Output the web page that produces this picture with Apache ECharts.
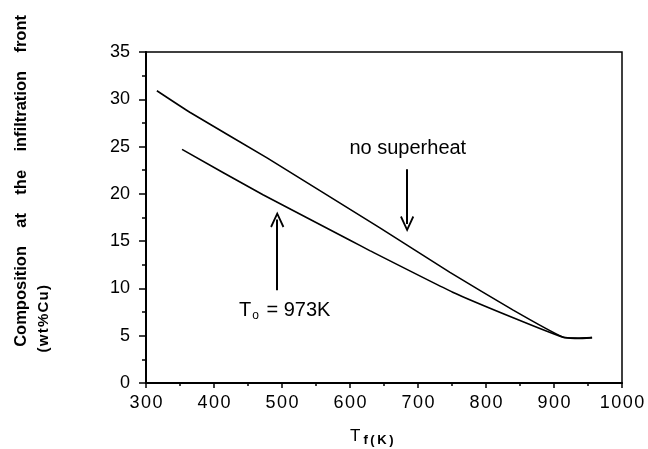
<!DOCTYPE html>
<html>
<head>
<meta charset="utf-8">
<script src="https://cdn.jsdelivr.net/npm/echarts@6/dist/echarts.min.js"></script>
<style>
  html, body { margin: 0; padding: 0; background: #fff; }
  #main { width: 648px; height: 449px; }
</style>
</head>
<body>
<div id="main"></div>
<script>
// 数据：两条曲线
const noSuperheatT = [316, 365, 478, 644, 747, 840, 913, 935, 956];
const noSuperheatC = [30.9, 28.6, 23.8, 16.4, 11.7, 7.7, 4.85, 4.75, 4.8];
const to973T = [353, 472, 600, 629, 751, 840, 913, 935, 956];
const to973C = [24.7, 19.9, 15.1, 14.0, 9.6, 6.9, 4.85, 4.7, 4.8];
const xTicks = [300, 400, 500, 600, 700, 800, 900, 1000];
const yTicks = [0, 5, 10, 15, 20, 25, 30, 35];

const pair = (xs, ys) => xs.map((x, i) => [x, ys[i]]);
const vArrow = "path://M0,0 L-6,11 L-4.6,11.6 L0,3.2 L4.6,11.6 L6,11 Z";
const font = "Liberation Sans, Arial, sans-serif";

const chart = echarts.init(document.getElementById("main"));
const option = {
  backgroundColor: "#fff",
  animation: false,
  grid: {
    left: 146, right: 26, top: 52, bottom: 66,
    show: true, borderColor: "#000", borderWidth: 1.5,
  },
  xAxis: {
    type: "value", min: 300, max: 1000, interval: 100,
    minorTick: { show: true, splitNumber: 2, length: 3, lineStyle: { color: "#000", width: 1.5 } },
    axisLine: { lineStyle: { color: "#000", width: 2 } },
    axisTick: { length: 5, lineStyle: { color: "#000", width: 1.5 } },
    splitLine: { show: false },
    axisLabel: { color: "#000", fontSize: 18, fontFamily: font, margin: 11,
      formatter: (v) => (xTicks.includes(v) ? String(v).split("").join("\u200A") : "") },
  },
  yAxis: {
    type: "value", min: 0, max: 35, interval: 5,
    minorTick: { show: true, splitNumber: 2, length: 4, lineStyle: { color: "#000", width: 1.5 } },
    axisLine: { lineStyle: { color: "#000", width: 2 } },
    axisTick: { length: 7, lineStyle: { color: "#000", width: 1.5 } },
    splitLine: { show: false },
    axisLabel: { color: "#000", fontSize: 18, fontFamily: font, margin: 16,
      formatter: (v) => (yTicks.includes(v) ? String(v) : "") },
  },
  graphic: [
    {
      type: "text", left: 13, top: 15, rotation: Math.PI / 2,
      style: {
        text: "Composition    at    the    infiltration    front",
        font: "bold 16.5px " + font, fill: "#000",
      },
    },
    {
      type: "text", left: 36, top: 285, rotation: Math.PI / 2,
      style: { text: "(\u200Aw\u200At\u200A%\u200AC\u200Au\u200A)", font: "bold 15px " + font, fill: "#000" },
    },
    {
      type: "text", left: 350, top: 428,
      style: {
        text: "{t|T}{s|f\u2009(\u2009K\u2009)}", fill: "#000",
        rich: {
          t: { font: "17px " + font },
          s: { font: "bold 13px " + font, padding: [7, 0, 0, 3] },
        },
      },
    },
  ],
  series: [
    {
      name: "no superheat", type: "line", data: pair(noSuperheatT, noSuperheatC),
      showSymbol: false, smooth: 0.15, lineStyle: { color: "#000", width: 1.6 },
      markLine: {
        silent: true, symbol: ["none", vArrow], symbolSize: [14, 16],
        lineStyle: { color: "#000", width: 2, type: "solid" }, label: { show: false },
        data: [[{ coord: [684, 22.6] }, { coord: [684, 16.8] }]],
      },
      markPoint: {
        silent: true, symbol: "circle", symbolSize: 1,
        itemStyle: { color: "rgba(0,0,0,0)" },
        label: { show: true, position: "inside", formatter: "no superheat",
          color: "#000", fontSize: 20, fontFamily: font },
        data: [{ coord: [685, 24.8] }],
      },
    },
    {
      name: "To=973K", type: "line", data: pair(to973T, to973C),
      showSymbol: false, smooth: 0.15, lineStyle: { color: "#000", width: 1.6 },
      markLine: {
        silent: true, symbol: ["none", vArrow], symbolSize: [14, 16],
        lineStyle: { color: "#000", width: 2, type: "solid" }, label: { show: false },
        data: [[{ coord: [493, 9.8] }, { coord: [493, 17.3] }]],
      },
      markPoint: {
        silent: true, symbol: "circle", symbolSize: 1,
        itemStyle: { color: "rgba(0,0,0,0)" },
        label: { show: true, position: "inside", formatter: "{t|T}{s|o}{t| = 973K}",
          rich: {
            t: { fontSize: 20, fontFamily: font, color: "#000" },
            s: { fontSize: 12, fontFamily: font, color: "#000", padding: [12, 2, 0, 1] },
          } },
        data: [{ coord: [504, 7.7] }],
      },
    },
  ],
};
chart.setOption(option);
</script>
</body>
</html>
